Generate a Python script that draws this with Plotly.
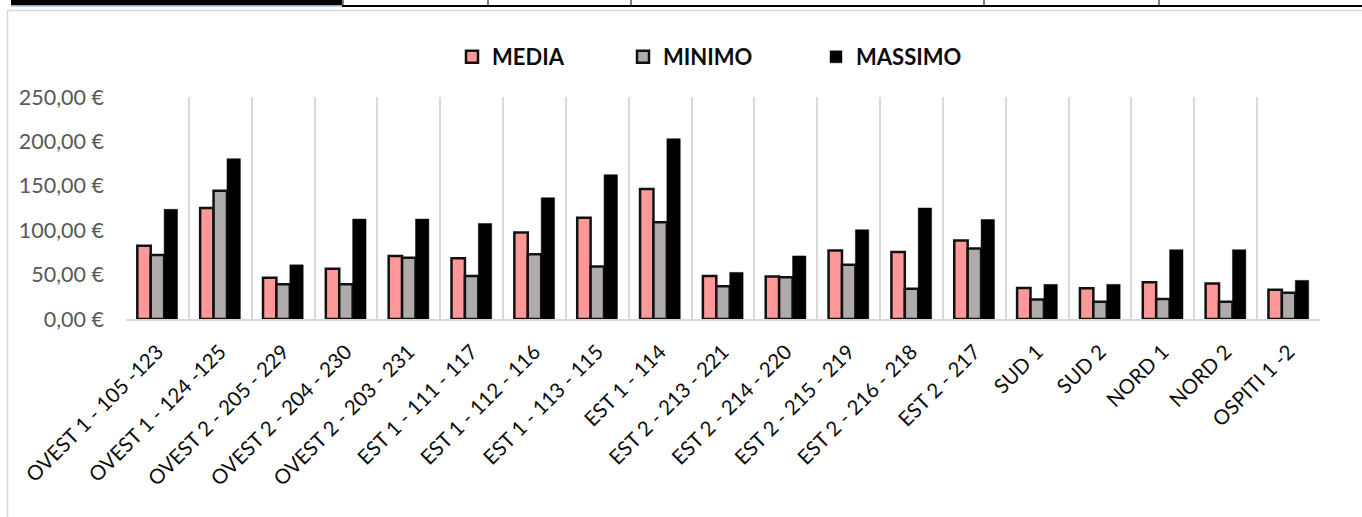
import plotly.graph_objects as go

categories = [
    "OVEST 1 - 105 -123", "OVEST 1 - 124 -125", "OVEST 2 - 205 - 229",
    "OVEST 2 - 204 - 230", "OVEST 2 - 203 - 231", "EST 1 - 111 - 117",
    "EST 1 - 112 - 116", "EST 1 - 113 - 115", "EST 1 - 114",
    "EST 2 - 213 - 221", "EST 2 - 214 - 220", "EST 2 - 215 - 219",
    "EST 2 - 216 - 218", "EST 2 - 217", "SUD 1", "SUD 2", "NORD 1",
    "NORD 2", "OSPITI 1 -2",
]
media = [82.5, 125.0, 46.5, 56.5, 71.0, 68.5, 97.5, 114.0, 146.5, 48.5,
         48.0, 77.0, 75.5, 88.5, 35.0, 34.5, 41.5, 40.0, 33.0]
minimo = [72.0, 144.5, 39.0, 39.0, 69.0, 48.5, 73.0, 59.0, 109.0, 37.0,
          47.0, 61.0, 34.0, 79.5, 22.0, 19.5, 22.5, 19.5, 29.5]
massimo = [123.5, 180.5, 61.0, 112.5, 112.5, 107.5, 136.5, 162.5, 203.0,
           52.5, 71.0, 100.5, 125.0, 112.0, 39.0, 39.0, 78.0, 78.0, 43.5]

series_names = ["MEDIA", "MINIMO", "MASSIMO"]
series_colors = ["#FF9999", "#AFABAB", "#000000"]

y_tickvals = [0, 50, 100, 150, 200, 250]
y_ticktext = ["0,00 €", "50,00 €", "100,00 €", "150,00 €", "200,00 €", "250,00 €"]

W, H = 1362, 517
ML, MR, MT, MB = 126, 42, 97, 198
PW, PH = W - ML - MR, H - MT - MB


def px_x(p):
    return (p - ML) / PW


def px_y(p):
    return (H - MB - p) / PH


fig = go.Figure()
legend_ids = ["legend", "legend2", "legend3"]
for name, vals, col, lg in zip(series_names, [media, minimo, massimo], series_colors, legend_ids):
    fig.add_trace(go.Bar(
        name=name, x=categories, y=vals,
        marker=dict(color=col, line=dict(color="#111111", width=2.5 if name != "MASSIMO" else 0.5)),
        legend=lg, showlegend=True,
    ))

legend_text_x = [492, 663, 856]
legend_font = dict(family="Lato", size=22, color="#0d0d0d", weight="bold")
for lg, tx in zip(legend_ids, legend_text_x):
    fig.update_layout(**{lg: dict(
        xref="container", yref="container", x=(tx - 40) / W, y=1 - 57 / H,
        xanchor="left", yanchor="middle", orientation="h",
        font=legend_font, bgcolor="rgba(0,0,0,0)", borderwidth=0,
    )})

fig.update_layout(
    width=W, height=H,
    margin=dict(l=ML, r=MR, t=MT, b=MB, autoexpand=False),
    paper_bgcolor="white", plot_bgcolor="white",
    barmode="group", bargap=0.36, bargroupgap=0,
    showlegend=True,
    font=dict(family="Lato"),
    xaxis=dict(
        type="category", tickson="boundaries", showgrid=True,
        gridcolor="#D9D9D9", gridwidth=1.5, showline=True, linecolor="#D9D9D9",
        linewidth=1.5, ticks="", tickangle=-45, ticklabelstandoff=11,
        tickfont=dict(family="Lato", size=20.5, color="#0d0d0d"),
    ),
    yaxis=dict(
        range=[0, 250], tickvals=y_tickvals, ticktext=y_ticktext,
        showgrid=False, zeroline=False, showline=False, ticks="",
        ticklabelstandoff=21,
        tickfont=dict(family="Lato", size=21.5, color="#595959"),
    ),
)

# spreadsheet fragments and chart-area border around the chart
shapes = [
    dict(type="rect", xref="paper", yref="paper", x0=px_x(11), x1=px_x(342), y0=px_y(0), y1=px_y(5),
         fillcolor="#000000", line=dict(width=0)),
    dict(type="rect", xref="paper", yref="paper", x0=px_x(11), x1=px_x(342), y0=px_y(5), y1=px_y(6.5),
         fillcolor="#8EA9DB", line=dict(width=0)),
    dict(type="rect", xref="paper", yref="paper", x0=px_x(342), x1=px_x(W), y0=px_y(5), y1=px_y(7),
         fillcolor="#000000", line=dict(width=0)),
    dict(type="line", xref="paper", yref="paper", x0=px_x(7), x1=px_x(W), y0=px_y(10.5), y1=px_y(10.5),
         line=dict(color="#D9D9D9", width=1.5)),
    dict(type="line", xref="paper", yref="paper", x0=px_x(7.5), x1=px_x(7.5), y0=px_y(10), y1=px_y(H),
         line=dict(color="#D9D9D9", width=1.5)),
]
for vx in [343, 488, 631, 984, 1159]:
    shapes.append(dict(type="line", xref="paper", yref="paper", x0=px_x(vx), x1=px_x(vx),
                       y0=px_y(0), y1=px_y(6), line=dict(color="#000000", width=1)))
fig.update_layout(shapes=shapes)

fig.write_html("out.html")
